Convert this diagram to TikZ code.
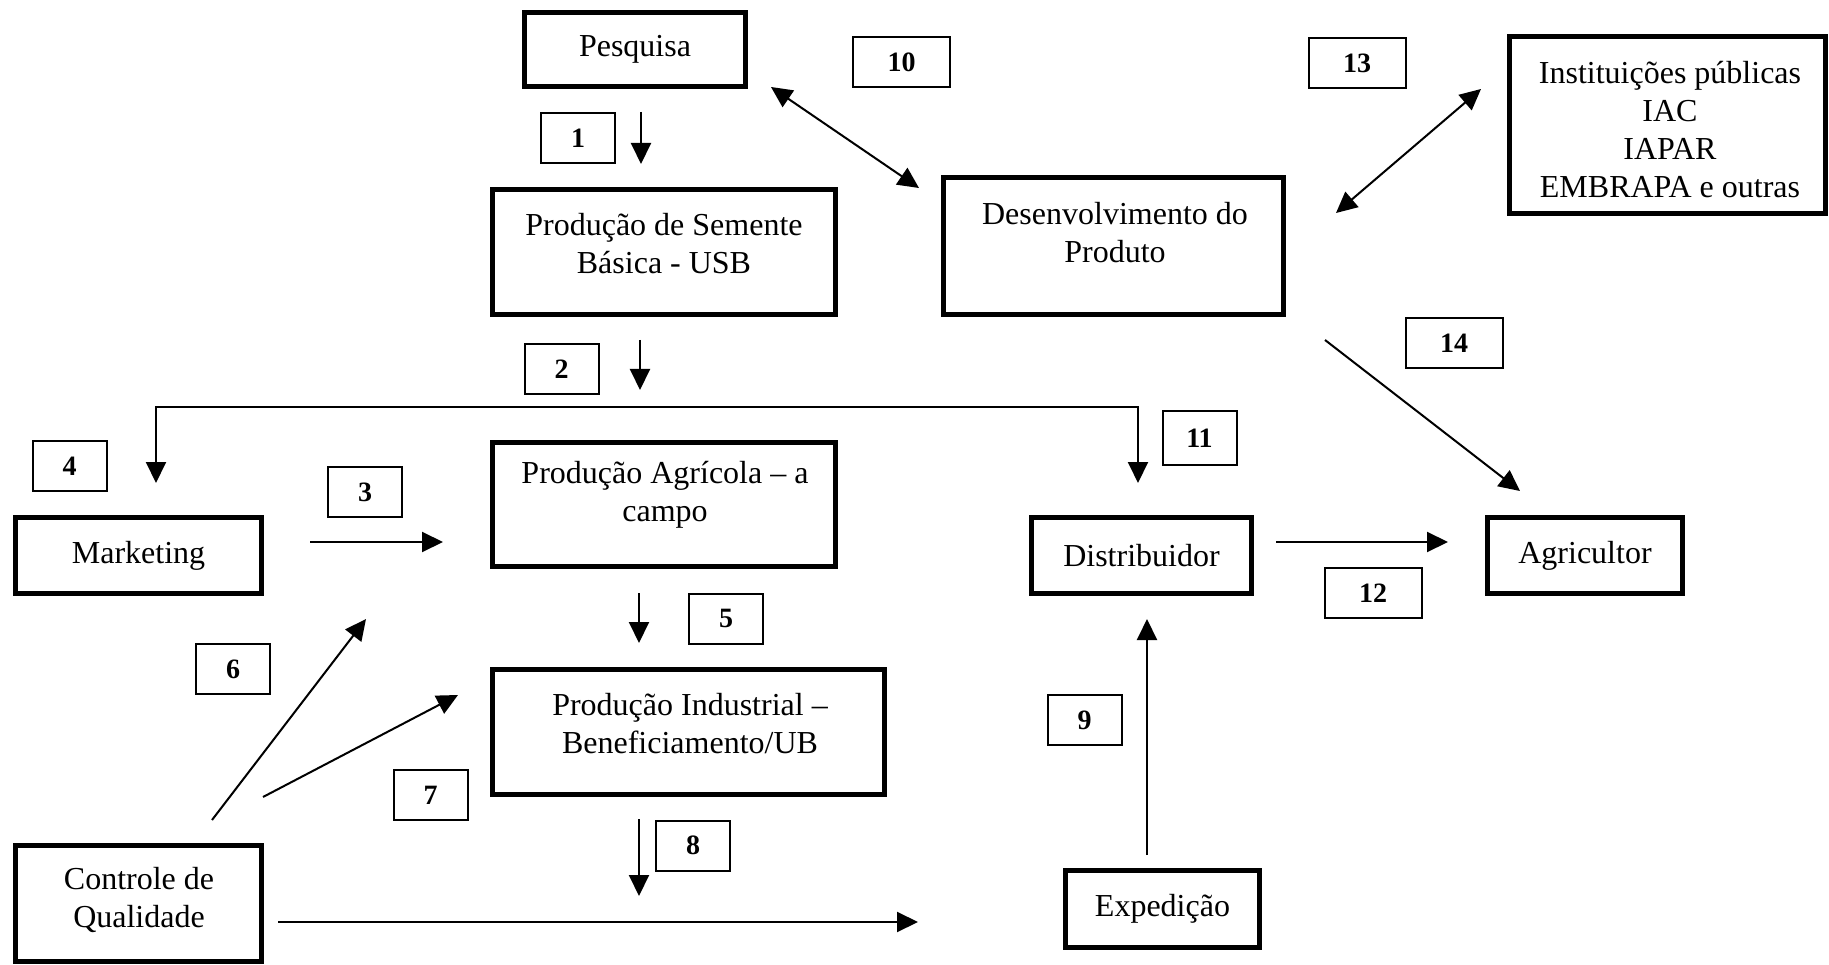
\documentclass[tikz,border=0pt]{standalone}
\usepackage{fontspec}
\setmainfont{Liberation Serif}
\usetikzlibrary{arrows.meta}

\begin{document}
\begin{tikzpicture}[x=1pt, y=-1pt,
	caixa/.style={draw, line width=5pt, inner sep=0pt, font=\fontsize{32}{38}\selectfont},
	texto/.style={align=center, inner sep=0pt, font=\fontsize{32}{38}\selectfont},
	num/.style={draw, line width=2pt, inner sep=0pt, minimum width=74pt, minimum height=50pt, font=\fontsize{28}{32}\selectfont\bfseries},
	numlargo/.style={num, minimum width=97pt},
	seta/.style={line width=2pt, -{Triangle[length=21pt, width=20pt]}},
	dupla/.style={line width=2pt, {Triangle[length=21pt, width=20pt]}-{Triangle[length=21pt, width=20pt]}}]
	\useasboundingbox (0,0) rectangle (1829,965);

	% caixas
	\node[caixa, minimum width=221pt, minimum height=74pt] (pesq) at (635,49.5) {Pesquisa};
	\node[caixa, minimum width=343pt, minimum height=125pt] (usb) at (664,252) {};
	\node[caixa, minimum width=340pt, minimum height=137pt] (desenv) at (1113.5,246) {};
	\node[caixa, minimum width=316pt, minimum height=177pt] (inst) at (1667.5,125) {};
	\node[caixa, minimum width=246pt, minimum height=76pt] (mkt) at (138.5,555.5) {Marketing};
	\node[caixa, minimum width=343pt, minimum height=124pt] (agric) at (664,504.5) {};
	\node[caixa, minimum width=392pt, minimum height=125pt] (indus) at (688.5,732) {};
	\node[caixa, minimum width=246pt, minimum height=116pt] (ctrl) at (138.5,903.5) {};
	\node[caixa, minimum width=220pt, minimum height=76pt] (distr) at (1141.5,555.5) {Distribuidor};
	\node[caixa, minimum width=195pt, minimum height=76pt] (agricultor) at (1585,555.5) {Agricultor};
	\node[caixa, minimum width=194pt, minimum height=77pt] (exped) at (1162.5,909) {Expedição};

	% textos das caixas de duas ou mais linhas
	\node[texto] (usbt) at (664,244) {Produção de Semente\\Básica - USB};
	\node[texto] (desenvt) at (1115,233) {Desenvolvimento do\\Produto};
	\node[texto] (instt) at (1670,130) {Instituições públicas\\IAC\\IAPAR\\EMBRAPA e outras};
	\node[texto] (agrict) at (665,495) {Produção Agrícola – a\\campo};
	\node[texto] (indust) at (690,724) {Produção Industrial –\\Beneficiamento/UB};
	\node[texto] (ctrlt) at (139,900) {Controle de\\Qualidade};

	% numeros
	\node[num] (n1) at (578,138) {1};
	\node[num] (n2) at (561.5,369) {2};
	\node[num] (n3) at (365,492) {3};
	\node[num] (n4) at (69.5,466) {4};
	\node[num] (n5) at (726,618.5) {5};
	\node[num] (n6) at (233,669) {6};
	\node[num] (n7) at (430.5,795) {7};
	\node[num] (n8) at (693,845.5) {8};
	\node[num] (n9) at (1084.5,720) {9};
	\node[numlargo] (n10) at (901.5,62) {10};
	\node[num, minimum height=54pt] (n11) at (1199.5,438) {11};
	\node[numlargo] (n12) at (1373,593) {12};
	\node[numlargo] (n13) at (1357,63) {13};
	\node[numlargo] (n14) at (1454,343) {14};

	% pontas das setas
	\coordinate (a1) at (641,112);  \coordinate (b1) at (641,164);
	\coordinate (a2) at (640,340);  \coordinate (b2) at (640,390);
	\coordinate (barra) at (640,407);
	\coordinate (b4) at (156,483);  \coordinate (b11) at (1138,483);
	\coordinate (a3) at (310,542);  \coordinate (b3) at (443,542);
	\coordinate (a5) at (639,593);  \coordinate (b5) at (639,643);
	\coordinate (a6) at (212,820);  \coordinate (b6) at (366,619);
	\coordinate (a7) at (263,797);  \coordinate (b7) at (458,695);
	\coordinate (a8) at (639,819);  \coordinate (b8) at (639,896);
	\coordinate (actrl) at (278,922); \coordinate (bexp) at (918,922);
	\coordinate (a9) at (1147,855); \coordinate (b9) at (1147,619);
	\coordinate (a12) at (1276,542); \coordinate (b12) at (1448,542);
	\coordinate (a14) at (1325,340); \coordinate (b14) at (1520,491);
	\coordinate (a10) at (771,87);  \coordinate (b10) at (919,188);
	\coordinate (a13) at (1481,89); \coordinate (b13) at (1336,213);

	\draw[seta] (a1) -- (b1);
	\draw[seta] (a2) -- (b2);
	\draw[dupla] (b4) |- (barra) -| (b11);
	\draw[seta] (a3) -- (b3);
	\draw[seta] (a5) -- (b5);
	\draw[seta] (a6) -- (b6);
	\draw[seta] (a7) -- (b7);
	\draw[seta] (a8) -- (b8);
	\draw[seta] (actrl) -- (bexp);
	\draw[seta] (a9) -- (b9);
	\draw[seta] (a12) -- (b12);
	\draw[seta] (a14) -- (b14);
	\draw[dupla] (a10) -- (b10);
	\draw[dupla] (a13) -- (b13);
\end{tikzpicture}
\end{document}
